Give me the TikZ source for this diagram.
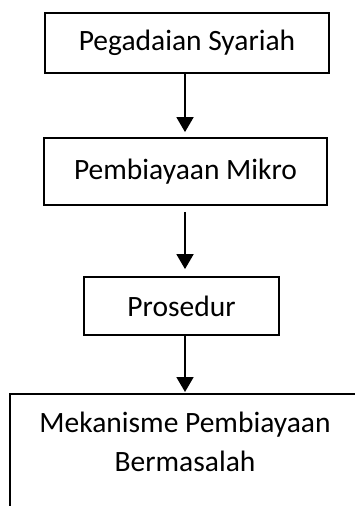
\documentclass[tikz,border=0pt]{standalone}
\usepackage{fontspec}
\setmainfont{Carlito}
\usetikzlibrary{arrows.meta}
\begin{document}
\begin{tikzpicture}[x=1pt,y=-1pt,
  box/.style={draw, line width=1.8pt, rectangle, inner sep=0pt, font=\fontsize{29.5}{39}\selectfont},
  lbl/.style={inner sep=0pt, align=center, font=\fontsize{29.5}{39}\selectfont},
  arr/.style={line width=1.8pt, -{Triangle[width=17pt,length=15pt]}}]
\useasboundingbox (0,0) rectangle (355,506);
\clip (0,0) rectangle (355,506);
\node[box, minimum width=284pt, minimum height=60pt] (b1) at (187,43) {Pegadaian Syariah};
\node[box, minimum width=283pt, minimum height=67pt] (b2) at (185.5,171.5) {Pembiayaan Mikro};
\node[box, minimum width=195pt, minimum height=58pt] (b3) at (181.5,306) {Prosedur};
\node[box, minimum width=352pt, minimum height=150pt, anchor=north west] (b4) at (9,393) {};
\node[lbl] (t4) at (185,442) {Mekanisme Pembiayaan\\Bermasalah};
\draw[arr, shorten >=5pt] (b1.south -| t4.center) -- (b2.north -| t4.center);
\draw[arr, shorten <=6pt, shorten >=7pt] (b2.south -| t4.center) -- (b3.north -| t4.center);
\draw[arr, shorten >=1pt] (b3.south -| t4.center) -- (b4.north -| t4.center);
\end{tikzpicture}
\end{document}
